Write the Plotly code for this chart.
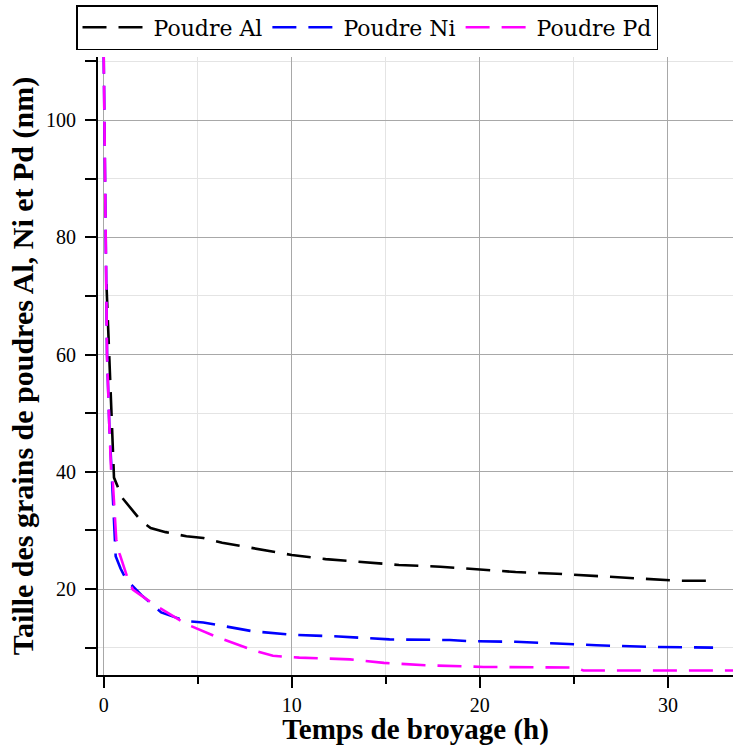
import plotly.graph_objects as go

# Data
al_x = [0.15, 0.25, 0.35, 0.45, 0.55, 1.0, 1.5, 2.0, 2.5, 3.3, 4.4, 5.3, 6.3, 8.1, 10.0, 11.8, 13.4, 15.7, 17.9, 19.8, 21.9, 24.1, 26.4, 28.6, 30.6, 32.4]
al_y = [72, 64, 56, 46, 39, 35.5, 33.5, 31.6, 30.4, 29.7, 29.0, 28.7, 27.9, 26.9, 25.8, 25.1, 24.7, 24.1, 23.8, 23.4, 22.9, 22.6, 22.2, 21.8, 21.4, 21.4]

ni_x = [0.0, 0.05, 0.1, 0.18, 0.3, 0.4, 0.5, 0.64, 0.9, 1.2, 2.0, 3.06, 4.4, 5.3, 6.3, 7.9, 10.0, 12.5, 15.2, 18.4, 19.5, 21.9, 24.1, 26.2, 29.4, 32.4]
ni_y = [112, 100, 80, 60, 48, 40, 35, 25.6, 23.5, 21.6, 19.0, 16.0, 14.5, 14.3, 13.7, 12.8, 12.2, 11.9, 11.4, 11.3, 11.1, 11.0, 10.7, 10.4, 10.1, 10.0]

pd_x = [0.0, 0.05, 0.1, 0.18, 0.3, 0.4, 0.49, 0.67, 0.85, 1.3, 1.55, 2.8, 4.4, 6.1, 8.1, 9.0, 10.4, 13.1, 14.9, 17.1, 20.2, 25.1, 25.5, 33.6]
pd_y = [112, 100, 80, 60, 48, 40, 38.1, 28.5, 26.0, 21.6, 19.9, 17.1, 14.0, 11.7, 9.4, 8.6, 8.3, 8.0, 7.4, 7.0, 6.7, 6.6, 6.1, 6.1]

x_ticks = [0, 10, 20, 30]
y_ticks = [20, 40, 60, 80, 100]

series = [
    ("Poudre Al", al_x, al_y, "#000000"),
    ("Poudre Ni", ni_x, ni_y, "#0000ff"),
    ("Poudre Pd", pd_x, pd_y, "#ff00ff"),
]

fig = go.Figure()
for name, xs, ys, col in series:
    fig.add_trace(go.Scatter(
        x=xs, y=ys, name=name, mode="lines",
        line=dict(color=col, width=2.6, dash="24px,12px"),
        cliponaxis=True,
    ))

serif = "Liberation Serif"

fig.update_layout(
    width=733, height=746,
    margin=dict(l=98, r=0, t=57, b=71, autoexpand=False),
    paper_bgcolor="white", plot_bgcolor="white",
    showlegend=True,
    legend=dict(
        orientation="h",
        xref="container", yref="container",
        x=367 / 733, xanchor="center", y=1 - 5 / 746, yanchor="top",
        bordercolor="#000000", borderwidth=1.5,
        font=dict(family="DejaVu Serif", size=22, color="#000000"),
        tracegroupgap=0, itemwidth=66,
    ),
    font=dict(family=serif, color="#000000"),
)

fig.update_xaxes(
    range=[-0.3, 33.46],
    automargin=False,
    tickmode="array", tickvals=x_ticks, ticktext=[str(v) for v in x_ticks],
    ticks="outside", ticklen=11, tickcolor="#000000", tickwidth=1.5,
    ticklabelstandoff=0,
    tickfont=dict(family=serif, size=20, color="#000000"),
    showgrid=True, gridcolor="#a8a8a8", gridwidth=1.3,
    minor=dict(tickvals=[5, 15, 25], ticks="outside", ticklen=7, tickcolor="#000000",
               showgrid=True, gridcolor="#e4e4e4", gridwidth=1.3),
    showline=True, linecolor="#000000", linewidth=2,
    zeroline=False,
    title=dict(text="<b>Temps de broyage (h)</b>", font=dict(family=serif, size=29, color="#000000"), standoff=13),
)

fig.update_yaxes(
    range=[5.33, 110.75],
    automargin=False,
    tickmode="array", tickvals=y_ticks, ticktext=[str(v) for v in y_ticks],
    ticks="outside", ticklen=11, tickcolor="#000000", tickwidth=1.5,
    ticklabelstandoff=5,
    tickfont=dict(family=serif, size=20, color="#000000"),
    showgrid=True, gridcolor="#a8a8a8", gridwidth=1.3,
    minor=dict(tickvals=[10, 30, 50, 70, 90, 110], ticks="outside", ticklen=11, tickcolor="#000000",
               showgrid=True, gridcolor="#e4e4e4", gridwidth=1.3),
    showline=True, linecolor="#000000", linewidth=2,
    zeroline=False,
    title=dict(text="<b>Taille des grains de poudres Al, Ni et Pd (nm)</b>", font=dict(family=serif, size=30, color="#000000"), standoff=4),
)

post = """
document.body.style.margin = '0px';
document.querySelectorAll('.legendlines path').forEach(function(p){ p.setAttribute('d', 'M5,0h60'); });
"""

fig.write_html("out.html", post_script=post, config={"displayModeBar": False})
